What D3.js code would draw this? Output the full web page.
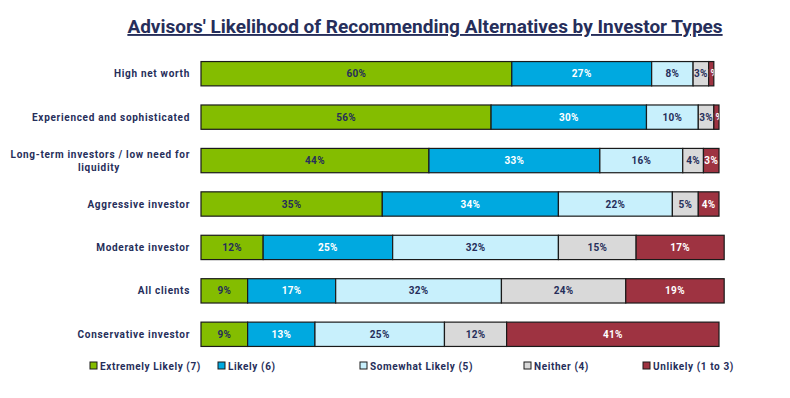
<!DOCTYPE html>
<html><head><meta charset="utf-8">
<script src="https://cdn.jsdelivr.net/npm/d3@7"></script>
<style>body{margin:0;background:#fff}svg{display:block}</style>
</head><body><svg id="c" width="790" height="398"></svg>
<script>
const categories = ["High net worth","Experienced and sophisticated","Long-term investors / low need for liquidity","Aggressive investor","Moderate investor","All clients","Conservative investor"];
const seriesNames = ["Extremely Likely (7)","Likely (6)","Somewhat Likely (5)","Neither (4)","Unlikely (1 to 3)"];
const extremelyLikely = [60,56,44,35,12,9,9];
const likely = [27,30,33,34,25,17,13];
const somewhatLikely = [8,10,16,22,32,32,25];
const neither = [3,3,4,5,15,24,12];
const unlikely = [1,1,3,4,17,19,41];
const colors = ["#84bd00","#00a9e0","#c8f0fc","#d9d9d9","#9e3341"];
const textColors = ["#262e5a","#ffffff","#262e5a","#262e5a","#ffffff"];
const series = [extremelyLikely,likely,somewhatLikely,neither,unlikely];

const svg = d3.select("#c");
const navy = "#262e5a";
const font = "Roboto, 'DejaVu Sans', sans-serif";

svg.append("text").attr("x",425).attr("y",33).attr("text-anchor","middle")
  .attr("font-family",font).attr("font-weight",700).attr("font-size",19)
  .attr("fill",navy).attr("text-decoration","underline")
  .text("Advisors' Likelihood of Recommending Alternatives by Investor Types");

const x = d3.scaleLinear().domain([0,100]).range([201,719]);
const y = d3.scaleBand().domain(categories).range([52,356]).paddingInner(0.44).paddingOuter(0.22);

const defs = svg.append("defs");
categories.forEach((cat,i)=>{
  let acc = 0;
  const g = svg.append("g");
  series.forEach((s,j)=>{
    const v = s[i];
    const x0 = x(acc), x1 = x(acc+v);
    acc += v;
    const id = "clip"+i+"_"+j;
    defs.append("clipPath").attr("id",id).append("rect")
      .attr("x",x0).attr("y",y(cat)).attr("width",x1-x0).attr("height",y.bandwidth());
    g.append("rect").attr("x",x0).attr("y",y(cat)).attr("width",x1-x0).attr("height",y.bandwidth())
      .attr("fill",colors[j]).attr("stroke","#1a1a1a").attr("stroke-width",1.2);
    g.append("text").attr("x",(x0+x1)/2).attr("y",y(cat)+y.bandwidth()/2+3.6)
      .attr("text-anchor","middle").attr("font-family",font).attr("font-weight",700)
      .attr("font-size",10).attr("letter-spacing",0.3).attr("fill",textColors[j]).attr("clip-path","url(#"+id+")")
      .text(v+"%");
  });
  const lines = cat === "Long-term investors / low need for liquidity" ? ["Long-term investors / low need for","liquidity"] : [cat];
  const cy = y(cat)+y.bandwidth()/2;
  lines.forEach((ln,k)=>{
    svg.append("text").attr("x", lines.length>1 && k===1 ? 99 : 190)
      .attr("y", cy + 3.5 + (k - (lines.length-1)/2)*13)
      .attr("text-anchor", lines.length>1 && k===1 ? "middle" : "end")
      .attr("font-family",font).attr("font-weight",700).attr("font-size",10)
      .attr("letter-spacing",0.7).attr("fill",navy).text(ln);
  });
});

const legendX = [90,218,360,524,643];
seriesNames.forEach((n,j)=>{
  svg.append("rect").attr("x",legendX[j]).attr("y",362).attr("width",7).attr("height",7)
    .attr("fill",colors[j]).attr("stroke","#1a1a1a").attr("stroke-width",1);
  svg.append("text").attr("x",legendX[j]+10).attr("y",369.5)
    .attr("font-family",font).attr("font-weight",700).attr("font-size",10)
    .attr("letter-spacing",0.6).attr("fill",navy).text(n);
});
</script></body></html>
